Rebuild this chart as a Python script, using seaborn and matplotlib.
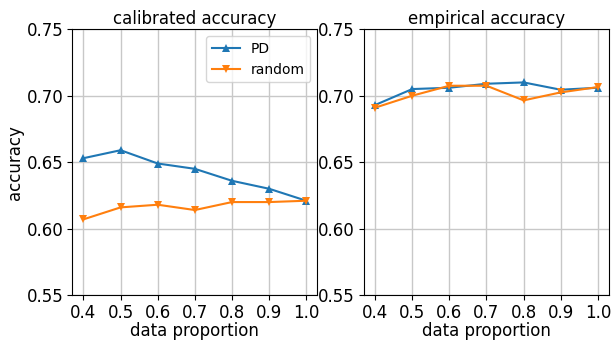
import matplotlib
matplotlib.use("Agg")
import matplotlib.pyplot as plt
import seaborn as sns
import pandas as pd

proportion = [0.4, 0.5, 0.6, 0.7, 0.8, 0.9, 1.0]
calib_pd = [0.653, 0.659, 0.649, 0.645, 0.636, 0.630, 0.621]
calib_random = [0.607, 0.616, 0.618, 0.614, 0.620, 0.620, 0.621]
emp_pd = [0.693, 0.705, 0.706, 0.709, 0.710, 0.7045, 0.706]
emp_random = [0.691, 0.700, 0.7075, 0.7075, 0.6965, 0.7025, 0.7065]
titles = ["calibrated accuracy", "empirical accuracy"]

def make_df(pd_vals, rnd_vals):
    return pd.DataFrame({
        "data proportion": proportion * 2,
        "accuracy": pd_vals + rnd_vals,
        "method": ["PD"] * len(proportion) + ["random"] * len(proportion),
    })

matplotlib.rcParams.update(matplotlib.rcParamsDefault)
plt.rcParams["font.family"] = ["DejaVu Sans"]
fig, axes = plt.subplots(1, 2, figsize=(6.13, 3.4), dpi=100)
fig.subplots_adjust(left=0.118, right=0.9935, top=0.914, bottom=0.132, wspace=0.19)

palette = {"PD": "#1f77b4", "random": "#ff7f0e"}
markers = {"PD": "^", "random": "v"}
for ax, (a, b), title, leg in zip(axes, [(calib_pd, calib_random), (emp_pd, emp_random)], titles, [True, False]):
    df = make_df(a, b)
    sns.lineplot(data=df, x="data proportion", y="accuracy", hue="method", style="method",
                 markers=markers, dashes=False, palette=palette, ax=ax, markersize=6,
                 markeredgewidth=0, linewidth=1.5, legend=leg)
    ax.set_ylim(0.55, 0.75)
    ax.set_yticks([0.55, 0.60, 0.65, 0.70, 0.75])
    ax.set_xticks(proportion)
    ax.grid(True, color="#c8c8c8", linewidth=1.0)
    ax.set_axisbelow(True)
    ax.set_title(title, fontsize=12, pad=4)
    ax.tick_params(labelsize=12, pad=3)
    ax.set_xlabel("data proportion", fontsize=12, labelpad=0)
    if leg:
        ax.set_ylabel("accuracy", fontsize=12, labelpad=2)
        ax.legend(loc="upper right", fontsize=10, title=None)
    else:
        ax.set_ylabel("")

fig.savefig("out.png", dpi=100)
